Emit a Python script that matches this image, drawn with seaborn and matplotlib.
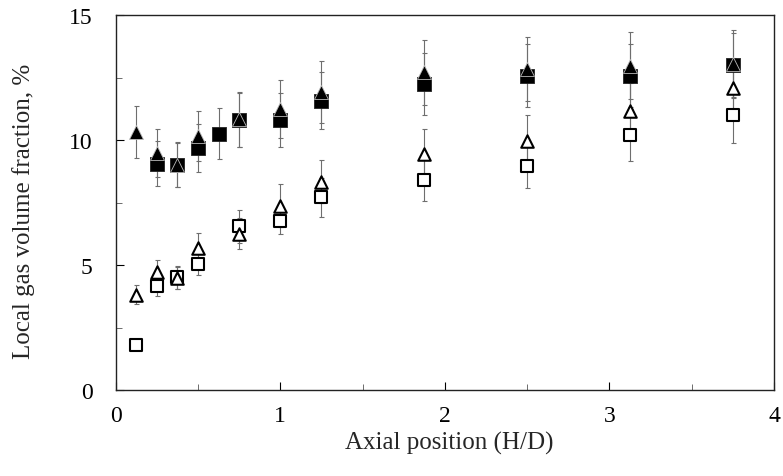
import numpy as np
import pandas as pd
import matplotlib
matplotlib.use("Agg")
import matplotlib.pyplot as plt
import seaborn as sns
from matplotlib.ticker import MultipleLocator

# ── data ────────────────────────────────────────────────────
x_tri_fill = [0.125, 0.25, 0.375, 0.5, 0.75, 1.0, 1.25, 1.875, 2.5, 3.125, 3.75]
y_tri_fill = [10.32, 9.48, 9.01, 10.16, 10.83, 11.25, 11.94, 12.72, 12.85, 12.98, 13.05]
e_tri_fill = [1.05, 0.95, 0.90, 1.00, 1.10, 1.15, 1.25, 1.30, 1.30, 1.35, 1.38]

x_sq_fill = [0.25, 0.375, 0.5, 0.625, 0.75, 1.0, 1.25, 1.875, 2.5, 3.125, 3.75]
y_sq_fill = [9.05, 9.01, 9.68, 10.26, 10.81, 10.81, 11.58, 12.25, 12.58, 12.58, 13.01]
e_sq_fill = [0.90, 0.88, 0.95, 1.02, 1.07, 1.07, 1.15, 1.23, 1.27, 1.27, 1.30]

x_tri_open = [0.125, 0.25, 0.375, 0.5, 0.75, 1.0, 1.25, 1.875, 2.5, 3.125, 3.75]
y_tri_open = [3.82, 4.71, 4.48, 5.67, 6.25, 7.38, 8.34, 9.45, 9.98, 11.18, 12.08]
e_tri_open = [0.37, 0.50, 0.45, 0.60, 0.62, 0.85, 0.86, 1.00, 1.02, 1.10, 1.20]

x_sq_open = [0.125, 0.25, 0.375, 0.5, 0.75, 1.0, 1.25, 1.875, 2.5, 3.125, 3.75]
y_sq_open = [1.79, 4.18, 4.51, 5.04, 6.55, 6.78, 7.71, 8.42, 8.98, 10.21, 11.02]
e_sq_open = [0.18, 0.42, 0.45, 0.45, 0.65, 0.55, 0.77, 0.87, 0.90, 1.03, 1.12]

x_ticks = [0, 1, 2, 3, 4]
y_ticks = [0, 5, 10, 15]

# ── style ───────────────────────────────────────────────────
sns.set_style("ticks")
plt.rcParams["font.family"] = ["Liberation Serif", "DejaVu Serif"]

fig = plt.figure(figsize=(7.83, 4.77), dpi=100)
ax = fig.add_axes([0.1478, 0.1803, 0.8407, 0.7855])

# (x, y, err, marker, face, edge, edge width)
series = [
    (x_sq_fill, y_sq_fill, e_sq_fill, "s", "black", "#222222", 0.6),
    (x_tri_fill, y_tri_fill, e_tri_fill, "^", "black", "#bbbbbb", 0.6),
    (x_sq_open, y_sq_open, e_sq_open, "s", "white", "black", 1.5),
    (x_tri_open, y_tri_open, e_tri_open, "^", "white", "black", 1.5),
]

# error bars first, markers on top
for xs, ys, es, mk, face, edge, lw in series:
    ax.errorbar(xs, ys, yerr=es, fmt="none", ecolor="#6e6e6e",
                elinewidth=0.8, capsize=1.8, capthick=0.8, zorder=1)

for i, (xs, ys, es, mk, face, edge, lw) in enumerate(series):
    df = pd.DataFrame({"x": xs, "y": ys})
    size = 100 if face == "black" else 81
    sns.scatterplot(data=df, x="x", y="y", marker=mk, s=size,
                    color=face, edgecolor=edge, linewidth=lw,
                    ax=ax, zorder=3 + i, legend=False)

ax.set_xlim(0, 4)
ax.set_ylim(0, 15)
ax.set_xticks(x_ticks)
ax.set_yticks(y_ticks)
ax.xaxis.set_minor_locator(MultipleLocator(0.5))
ax.yaxis.set_minor_locator(MultipleLocator(2.5))

ax.tick_params(which="both", direction="in", top=False, right=False)
ax.tick_params(which="major", length=5.5, width=0.8, labelsize=17, colors="black")
ax.tick_params(axis="y", which="major", pad=16.5)
ax.tick_params(axis="x", which="major", pad=11)
ax.tick_params(which="minor", length=4, width=0.6, color="#555555")

for sp in ax.spines.values():
    sp.set_visible(True)
    sp.set_linewidth(1.0)
    sp.set_color("#222222")

ax.set_xlabel("Axial position (H/D)", fontsize=18)
ax.set_ylabel("Local gas volume fraction, %", fontsize=18)
ax.xaxis.set_label_coords(0.506, -0.108)
ax.yaxis.set_label_coords(-0.1226, 0.48)

fig.savefig("out.png", dpi=100)
